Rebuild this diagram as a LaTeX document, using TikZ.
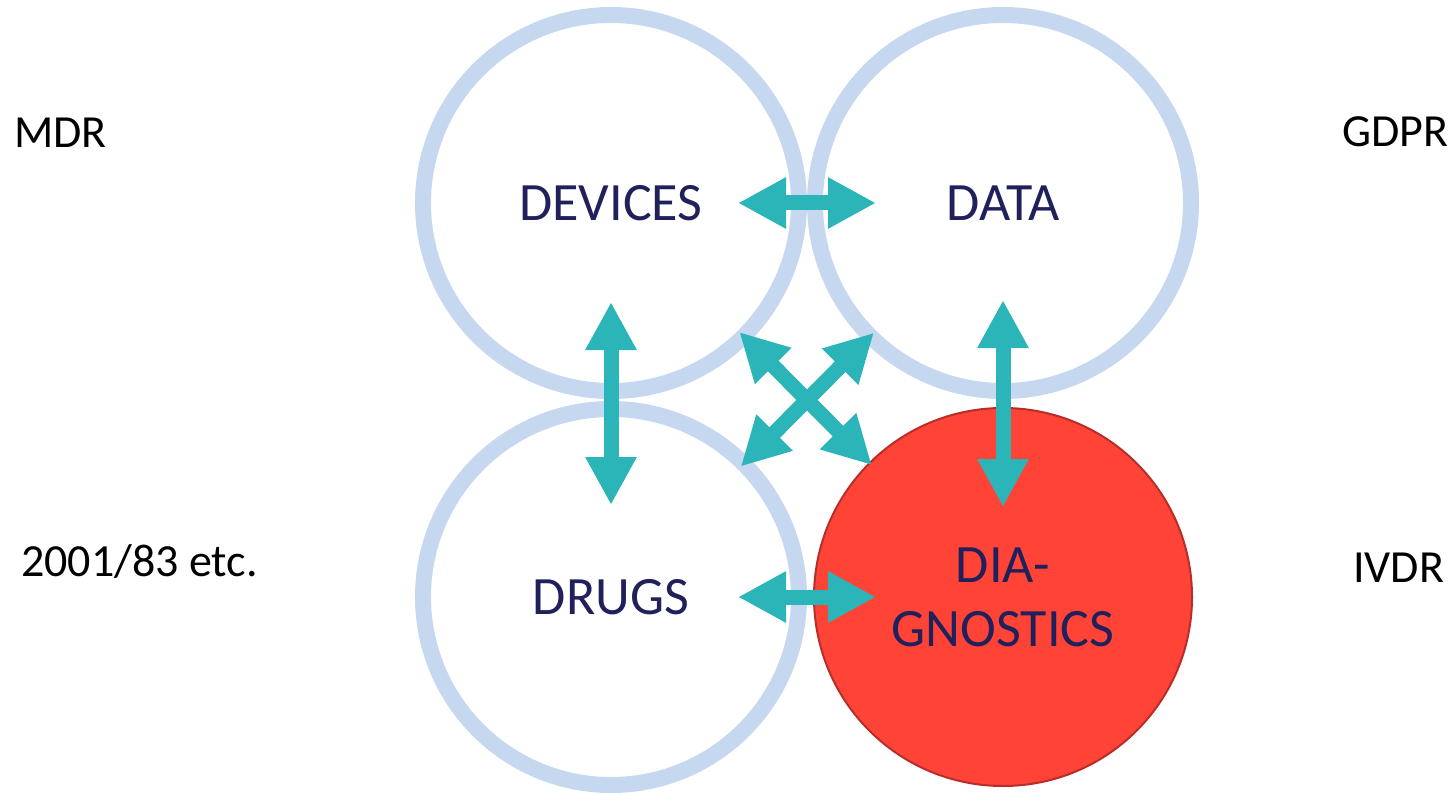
\documentclass[tikz,border=0pt]{standalone}
\usepackage{fontspec}
\setmainfont{Carlito}
\usetikzlibrary{arrows.meta}
\definecolor{ring}{RGB}{198,215,240}
\definecolor{teal}{RGB}{44,181,185}
\definecolor{navy}{RGB}{32,33,90}
\definecolor{redfill}{RGB}{255,67,55}
\definecolor{redline}{RGB}{185,45,40}
\tikzset{
  topic/.style={circle, minimum size=376pt, inner sep=0pt, draw=ring, line width=16pt,
    text=navy, font=\fontsize{54}{64}\selectfont, align=center},
  hot/.style={circle, minimum size=378pt, inner sep=0pt, draw=redline, fill=redfill, line width=2pt,
    text=navy, font=\fontsize{54}{64}\selectfont, align=center},
  law/.style={anchor=base west, inner sep=0pt, text=black, font=\fontsize{46}{54}\selectfont},
  link/.style={draw=teal, line width=15pt, {Triangle[length=48pt,width=48pt]}-{Triangle[length=48pt,width=48pt]}}
}
\begin{document}
\begin{tikzpicture}[x=1pt,y=-1pt]
\useasboundingbox (0,0) rectangle (1456,794);
\node[topic] (dev) at (611,203) {DEVICES};
\node[topic] (dat) at (1003,203) {DATA};
\node[topic] (drg) at (611,597) {DRUGS};
\node[hot] (dia) at (1003,597) {DIA-\\GNOSTICS};
\node[law] (mdr) at (14,148) {MDR};
\node[law] (gdpr) at (1342,147) {GDPR};
\node[law] (dir) at (21,576) {2001/83 etc.};
\node[law] (ivdr) at (1353,582) {IVDR};
\draw[link, shorten <=127pt, shorten >=127pt] (dev.center) -- (dat.center);
\draw[link, shorten <=127pt, shorten >=127pt] (drg.center) -- (dia.center);
\draw[link, shorten <=99pt, shorten >=92pt] (dev.center) -- (drg.center);
\draw[link, shorten <=97pt, shorten >=90pt] (dat.center) -- (dia.center);
\draw[link, shorten <=182pt, shorten >=186pt] (dev.center) -- (dia.center);
\draw[link, shorten <=183pt, shorten >=184pt] (dat.center) -- (drg.center);
\end{tikzpicture}
\end{document}
